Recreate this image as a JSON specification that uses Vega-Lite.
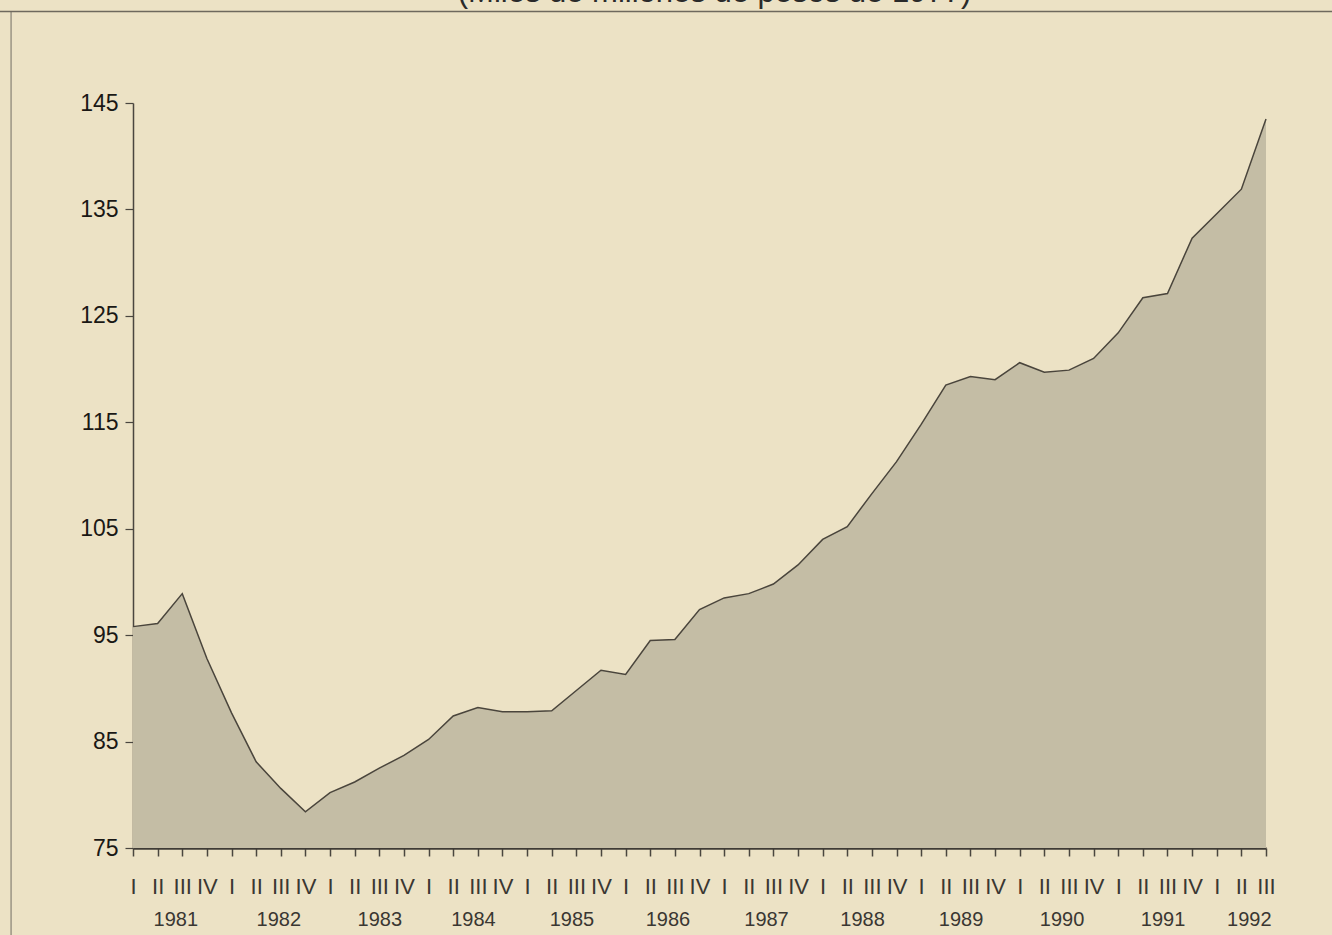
{
  "$schema": "https://vega.github.io/schema/vega-lite/v6.json",
  "autosize": {"type": "none"},
  "width": 1133,
  "height": 745,
  "padding": {"left": 133, "top": 103, "right": 66, "bottom": 87},
  "background": "#ece2c5",
  "config": {"view": {"stroke": null}, "axis": {"grid": false}},
  "title": {
    "text": "(Miles de millones de pesos de 1977)",
    "frame": "group",
    "anchor": "middle",
    "baseline": "bottom",
    "offset": 2,
    "dy": 31,
    "dx": 15,
    "font": "Liberation Sans",
    "fontSize": 31,
    "fontWeight": "normal",
    "color": "#2a2a2a"
  },
  "datasets": {
    "imacec": [
      {"year": 1981, "q": "I", "t": 0, "v": 95.8},
      {"year": 1981, "q": "II", "t": 1, "v": 96.1},
      {"year": 1981, "q": "III", "t": 2, "v": 98.9},
      {"year": 1981, "q": "IV", "t": 3, "v": 92.8},
      {"year": 1982, "q": "I", "t": 4, "v": 87.7},
      {"year": 1982, "q": "II", "t": 5, "v": 83.1},
      {"year": 1982, "q": "III", "t": 6, "v": 80.6},
      {"year": 1982, "q": "IV", "t": 7, "v": 78.4},
      {"year": 1983, "q": "I", "t": 8, "v": 80.2},
      {"year": 1983, "q": "II", "t": 9, "v": 81.2},
      {"year": 1983, "q": "III", "t": 10, "v": 82.5},
      {"year": 1983, "q": "IV", "t": 11, "v": 83.7},
      {"year": 1984, "q": "I", "t": 12, "v": 85.2},
      {"year": 1984, "q": "II", "t": 13, "v": 87.4},
      {"year": 1984, "q": "III", "t": 14, "v": 88.2},
      {"year": 1984, "q": "IV", "t": 15, "v": 87.8},
      {"year": 1985, "q": "I", "t": 16, "v": 87.8},
      {"year": 1985, "q": "II", "t": 17, "v": 87.9},
      {"year": 1985, "q": "III", "t": 18, "v": 89.8},
      {"year": 1985, "q": "IV", "t": 19, "v": 91.7},
      {"year": 1986, "q": "I", "t": 20, "v": 91.3},
      {"year": 1986, "q": "II", "t": 21, "v": 94.5},
      {"year": 1986, "q": "III", "t": 22, "v": 94.6},
      {"year": 1986, "q": "IV", "t": 23, "v": 97.4},
      {"year": 1987, "q": "I", "t": 24, "v": 98.5},
      {"year": 1987, "q": "II", "t": 25, "v": 98.9},
      {"year": 1987, "q": "III", "t": 26, "v": 99.8},
      {"year": 1987, "q": "IV", "t": 27, "v": 101.6},
      {"year": 1988, "q": "I", "t": 28, "v": 104.0},
      {"year": 1988, "q": "II", "t": 29, "v": 105.2},
      {"year": 1988, "q": "III", "t": 30, "v": 108.3},
      {"year": 1988, "q": "IV", "t": 31, "v": 111.3},
      {"year": 1989, "q": "I", "t": 32, "v": 114.8},
      {"year": 1989, "q": "II", "t": 33, "v": 118.5},
      {"year": 1989, "q": "III", "t": 34, "v": 119.3},
      {"year": 1989, "q": "IV", "t": 35, "v": 119.0},
      {"year": 1990, "q": "I", "t": 36, "v": 120.6},
      {"year": 1990, "q": "II", "t": 37, "v": 119.7},
      {"year": 1990, "q": "III", "t": 38, "v": 119.9},
      {"year": 1990, "q": "IV", "t": 39, "v": 121.0},
      {"year": 1991, "q": "I", "t": 40, "v": 123.4},
      {"year": 1991, "q": "II", "t": 41, "v": 126.7},
      {"year": 1991, "q": "III", "t": 42, "v": 127.1},
      {"year": 1991, "q": "IV", "t": 43, "v": 132.3},
      {"year": 1992, "q": "I", "t": 44, "v": 134.6},
      {"year": 1992, "q": "II", "t": 45, "v": 136.9},
      {"year": 1992, "q": "III", "t": 46, "v": 143.5}
    ],
    "frame": [
      {"x": -4.95, "x2": -4.95, "y": 153.6, "y2": 66.0, "c": "v"},
      {"x": -5.4, "x2": 48.7, "y": 153.6, "y2": 153.6, "c": "h"}
    ]
  },
  "layer": [
    {
      "data": {"name": "imacec"},
      "mark": {"type": "area", "color": "#c4bda5", "opacity": 1},
      "encoding": {
        "x": {
          "field": "t",
          "type": "quantitative",
          "scale": {"domain": [0, 46], "nice": false, "zero": false},
          "axis": {
            "title": null,
            "values": [0,1,2,3,4,5,6,7,8,9,10,11,12,13,14,15,16,17,18,19,20,21,22,23,24,25,26,27,28,29,30,31,32,33,34,35,36,37,38,39,40,41,42,43,44,45,46],
            "labelExpr": "['I','II','III','IV'][datum.value % 4]",
            "tickSize": 8,
            "tickWidth": 1.5,
            "tickColor": "#4a463f",
            "domainColor": "#3f3b35",
            "domainWidth": 2.5,
            "labelFont": "Liberation Sans",
            "labelFontSize": 22,
            "labelColor": "#3a3732",
            "labelPadding": 20,
            "labelFlush": false,
            "labelOverlap": false,
            "labelBound": false
          }
        },
        "y": {
          "field": "v",
          "type": "quantitative",
          "scale": {"domain": [75, 145], "nice": false, "zero": false},
          "axis": {
            "title": null,
            "values": [75, 85, 95, 105, 115, 125, 135, 145],
            "tickSize": 8,
            "tickWidth": 1.2,
            "tickColor": "#4a463f",
            "domainColor": "#4a463f",
            "domainWidth": 1.5,
            "labelFont": "Liberation Sans",
            "labelFontSize": 23,
            "labelColor": "#1a1815",
            "labelPadding": 7,
            "labelFlush": false
          }
        },
        "y2": {"datum": 75}
      }
    },
    {
      "data": {"name": "imacec"},
      "mark": {"type": "line", "color": "#4a453c", "strokeWidth": 1.5},
      "encoding": {
        "x": {
          "field": "t",
          "type": "quantitative",
          "axis": {
            "orient": "bottom",
            "title": null,
            "values": [1.72, 5.9, 10.0, 13.8, 17.8, 21.7, 25.7, 29.6, 33.6, 37.7, 41.8, 45.3],
            "labelExpr": "'' + (1981 + floor((datum.value + 0.5) / 4))",
            "ticks": false,
            "domain": false,
            "labelPadding": 61,
            "labelFont": "Liberation Sans",
            "labelFontSize": 20,
            "labelColor": "#3a3732",
            "labelFlush": false,
            "labelOverlap": false,
            "labelBound": false
          }
        },
        "y": {"field": "v", "type": "quantitative", "axis": null}
      }
    },
    {
      "data": {"name": "frame"},
      "mark": {"type": "rule", "strokeWidth": 1.5, "clip": false},
      "encoding": {
        "x": {"field": "x", "type": "quantitative", "axis": null},
        "x2": {"field": "x2"},
        "y": {"field": "y", "type": "quantitative", "axis": null},
        "y2": {"field": "y2"},
        "color": {"field": "c", "type": "nominal", "scale": {"domain": ["v", "h"], "range": ["#9a9484", "#6e695e"]}, "legend": null}
      }
    }
  ],
  "resolve": {"axis": {"x": "independent", "y": "independent"}}
}
